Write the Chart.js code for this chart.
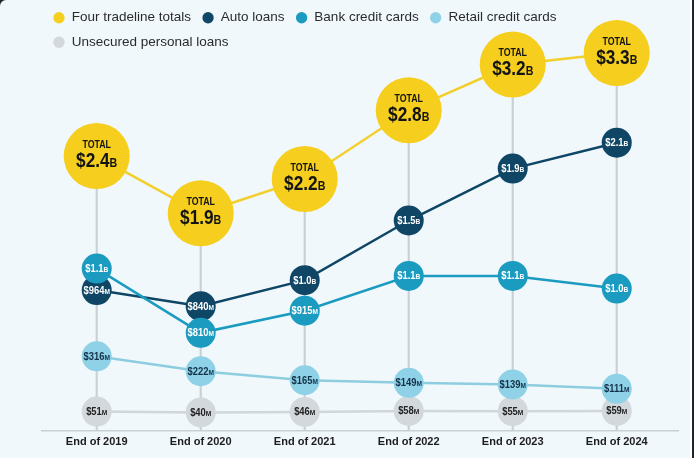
<!DOCTYPE html>
<html>
<head>
<meta charset="utf-8">
<script src="https://cdn.jsdelivr.net/npm/chart.js@4.4.1/dist/chart.umd.min.js"></script>
<style>
  html, body { margin: 0; padding: 0; background: #1f2326; }
  #wrap { width: 690px; height: 458px; background: #f0f8fc; border-right: 2px solid #ffffff; border-top-left-radius: 6px; }
  canvas { display: block; }
</style>
</head>
<body>
<div id="wrap"><canvas id="tradelines" width="690" height="458"></canvas></div>
<script>
// balances in millions of dollars
const years = ["End of 2019", "End of 2020", "End of 2021", "End of 2022", "End of 2023", "End of 2024"];
const totals = [2400, 1900, 2200, 2800, 3200, 3300];
const autoLoans = [964, 840, 1040, 1500, 1900, 2100];
const bankCards = [1115, 810, 915, 1080, 1080, 1020];
const retailCards = [316, 222, 165, 149, 139, 111];
const personalLoans = [51, 40, 46, 58, 55, 59];

const fontName = '"Liberation Sans", Arial, sans-serif';
Chart.defaults.font.family = fontName;

function points(values) {
    return values.map((v, i) => ({ x: i, y: v }));
}

function lineSeries(label, values, axis, color, lineColor, radius, textColor, order) {
    return {
        type: 'line',
        label: label,
        data: points(values),
        yAxisID: axis,
        borderColor: lineColor,
        backgroundColor: color,
        borderWidth: 2.5,
        pointRadius: radius,
        pointHoverRadius: radius,
        pointBackgroundColor: color,
        pointBorderWidth: 0,
        pointStyle: 'circle',
        tension: 0,
        clip: false,
        order: order,
        textColor: textColor
    };
}

function splitValue(v) {
    if (v >= 1000) {
        return ["$" + (v / 1000).toFixed(1), "B"];
    }
    return ["$" + v, "M"];
}

// number + smaller unit letter, squeezed to look condensed
function drawPair(ctx, x, y, main, unit, mainFont, unitFont, squeeze, color) {
    ctx.save();
    ctx.translate(x, y);
    ctx.scale(squeeze, 1);
    ctx.textAlign = 'left';
    ctx.textBaseline = 'alphabetic';
    ctx.fillStyle = color;
    ctx.font = mainFont;
    const w1 = ctx.measureText(main).width;
    ctx.font = unitFont;
    const w2 = ctx.measureText(unit).width;
    const start = -(w1 + w2) / 2;
    ctx.font = mainFont;
    ctx.fillText(main, start, 0);
    ctx.font = unitFont;
    ctx.fillText(unit, start + w1, 0);
    ctx.restore();
}

const bubbleLabels = {
    id: 'bubbleLabels',
    afterDatasetDraw(chart, args) {
        const ds = chart.data.datasets[args.index];
        if (!ds.textColor) return;
        const ctx = chart.ctx;
        args.meta.data.forEach((pt, i) => {
            const parts = splitValue(ds.data[i].y);
            if (ds.yAxisID === 'yTotal') {
                ctx.save();
                ctx.translate(pt.x, pt.y - 11);
                ctx.scale(0.88, 1);
                ctx.font = 'bold 10px ' + fontName;
                ctx.fillStyle = ds.textColor;
                ctx.textAlign = 'center';
                ctx.textBaseline = 'middle';
                ctx.fillText('TOTAL', 0, 0);
                ctx.restore();
                drawPair(ctx, pt.x, pt.y + 11, parts[0], parts[1],
                    'bold 21px ' + fontName, 'bold 13px ' + fontName, 0.82, ds.textColor);
            } else {
                drawPair(ctx, pt.x, pt.y + 3.5, parts[0], parts[1],
                    'bold 10px ' + fontName, 'bold 7px ' + fontName, 0.94, ds.textColor);
            }
        });
    }
};

const datasets = [
    lineSeries('Four tradeline totals', totals, 'yTotal', '#f5ce1e', '#f2cf2c', 33, '#141414', 5),
    lineSeries('Auto loans', autoLoans, 'yAuto', '#0f4666', '#0f4666', 15, '#ffffff', 4),
    lineSeries('Bank credit cards', bankCards, 'yBank', '#1a9bbf', '#1a9bbf', 15, '#ffffff', 3),
    lineSeries('Retail credit cards', retailCards, 'yRetail', '#8fd1e6', '#8dcde0', 15, '#13324a', 1),
    lineSeries('Unsecured personal loans', personalLoans, 'yPersonal', '#d3d8dd', '#d0d6db', 15, '#222222', 2),
    {
        type: 'bar',
        label: 'guide',
        data: points(totals),
        yAxisID: 'yTotal',
        backgroundColor: '#c9d1d7',
        borderWidth: 0,
        barThickness: 1.5,
        order: 10
    }
];

new Chart(document.getElementById('tradelines'), {
    type: 'line',
    data: { datasets: datasets },
    plugins: [bubbleLabels],
    options: {
        responsive: false,
        animation: false,
        events: [],
        layout: { autoPadding: false, padding: { left: 42, right: 12, top: 0, bottom: 4 } },
        plugins: {
            tooltip: { enabled: false },
            legend: {
                position: 'top',
                align: 'start',
                labels: {
                    usePointStyle: true,
                    boxWidth: 12,
                    boxHeight: 8,
                    padding: 11,
                    color: '#2b2b2b',
                    font: { size: 13.5 },
                    sort: (a, b) => a.datasetIndex - b.datasetIndex,
                    generateLabels(chart) {
                        const items = Chart.defaults.plugins.legend.labels.generateLabels(chart);
                        return items
                            .filter(it => chart.data.datasets[it.datasetIndex].type === 'line')
                            .map(it => Object.assign(it, { lineWidth: 0, strokeStyle: 'rgba(0,0,0,0)', pointStyle: 'circle' }));
                    }
                }
            }
        },
        scales: {
            x: {
                type: 'linear',
                offset: false,
                min: -0.526,
                max: 5.589,
                afterBuildTicks: axis => { axis.ticks = years.map((_, i) => ({ value: i })); },
                ticks: {
                    callback: v => years[v],
                    color: '#1d1d1d',
                    font: { size: 11, weight: 'bold' },
                    padding: 5,
                    maxRotation: 0,
                    autoSkip: false
                },
                grid: { display: false, drawTicks: false },
                border: { color: '#c9cfd4', width: 1.5 }
            },
            yTotal: { display: false, min: 0, max: 3248 },
            yAuto: { display: false, min: -121, max: 2745 },
            yBank: { display: false, min: 345, max: 2110 },
            yRetail: { display: false, min: -154, max: 2193 },
            yPersonal: { display: false, min: -189, max: 4443 }
        }
    }
});
</script>
</body>
</html>
